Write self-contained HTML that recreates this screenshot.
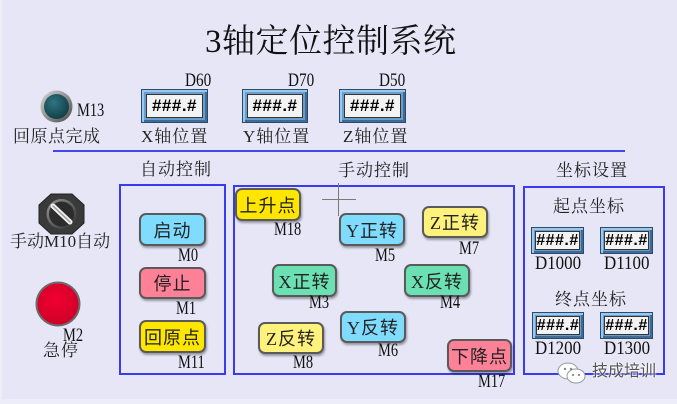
<!DOCTYPE html>
<html><head><meta charset="utf-8">
<style>
*{margin:0;padding:0;box-sizing:border-box}
html,body{width:677px;height:404px;overflow:hidden;background:#E6E6F7}
body{position:relative;font-family:"Liberation Serif","Noto Serif CJK SC",serif;color:#1a1a1a}
.a{position:absolute;white-space:nowrap;line-height:1}
.c{font-size:17px;letter-spacing:1px;color:#222}
.s{font-family:"Liberation Serif",serif;font-size:19px;transform:scaleX(0.76);transform-origin:left top;color:#111}
.d{font-family:"Liberation Serif",serif;font-size:19px;transform:scaleX(0.8);transform-origin:left top;color:#111}
.dd{font-family:"Liberation Serif",serif;font-size:19px;transform:scaleX(0.89);transform-origin:left top;color:#111}
.box{position:absolute;border:2px solid #3A3AF0}
.btn{position:absolute;border:2px solid #5a5a5a;border-radius:7px;box-shadow:1px 2px 2px rgba(0,0,0,0.35);display:flex;align-items:center;justify-content:center;font-size:18px;letter-spacing:1px;color:#222;font-family:"Liberation Serif","Noto Sans CJK SC",sans-serif}
.cy{background:#7FDCFF}
.pk{background:#FF8198}
.yl{background:#FFE600}
.ly{background:#FFF27C}
.gr{background:#6BE0B2}
.disp{position:absolute;background:#6A9ECF;border:1px solid #2B4B6B;box-shadow:inset 2px 2px 0 #9CC8EE,inset -2px -2px 0 #3E6C96}
.disp div{position:absolute;left:4px;top:4px;right:4px;bottom:4px;background:#F3F3F3;border:1px solid #333;display:flex;align-items:center;justify-content:center;font-family:"Liberation Sans",sans-serif;font-weight:bold;color:#000;letter-spacing:0.5px}
</style></head>
<body>
<div style="position:absolute;left:0;top:0;width:2px;height:404px;background:#EEEEF9"></div>
<div style="position:absolute;left:0;top:399px;width:677px;height:5px;background:#EDEDF9"></div>

<!-- title -->
<div class="a" style="left:205px;top:26px;font-size:33px;letter-spacing:0.5px;color:#111">3轴定位控制系统</div>

<!-- lamp M13 -->
<svg style="position:absolute;left:40px;top:90px" width="33" height="33">
<defs>
<radialGradient id="rg1" cx="40%" cy="35%" r="65%"><stop offset="0" stop-color="#2f7482"/><stop offset="1" stop-color="#12404a"/></radialGradient>
<linearGradient id="rr" x1="0" y1="0" x2="1" y2="1"><stop offset="0" stop-color="#d8d8d8"/><stop offset="1" stop-color="#4a4a4a"/></linearGradient>
</defs>
<circle cx="16.5" cy="16.5" r="16" fill="url(#rr)"/>
<circle cx="16.5" cy="16.5" r="12.5" fill="url(#rg1)"/>
</svg>
<div class="a s" style="left:77px;top:101px">M13</div>
<div class="a c" style="left:13px;top:128px;letter-spacing:0.5px">回原点完成</div>

<!-- displays -->
<div class="a d" style="left:185px;top:71px">D60</div>
<div class="disp" style="left:141px;top:89px;width:67px;height:34px"><div style="font-size:17px">###.#</div></div>
<div class="a c" style="left:141px;top:128px">X轴位置</div>

<div class="a d" style="left:288px;top:71px">D70</div>
<div class="disp" style="left:242px;top:89px;width:66px;height:34px"><div style="font-size:17px">###.#</div></div>
<div class="a c" style="left:243px;top:128px">Y轴位置</div>

<div class="a d" style="left:379px;top:71px">D50</div>
<div class="disp" style="left:339px;top:89px;width:67px;height:34px"><div style="font-size:17px">###.#</div></div>
<div class="a c" style="left:343px;top:128px">Z轴位置</div>

<div style="position:absolute;left:53px;top:150px;width:572px;height:2px;background:#4545F0"></div>

<!-- section titles -->
<div class="a c" style="left:140px;top:161px">自动控制</div>
<div class="a c" style="left:338px;top:162px">手动控制</div>
<div class="a c" style="left:556px;top:162px">坐标设置</div>

<!-- boxes -->
<div class="box" style="left:119px;top:184px;width:107px;height:191px"></div>
<div class="box" style="left:233px;top:185px;width:282px;height:190px"></div>
<div class="box" style="left:523px;top:186px;width:142px;height:189px"></div>

<!-- selector switch -->
<svg style="position:absolute;left:38px;top:193px" width="47" height="42">
<defs><linearGradient id="og" x1="0" y1="0" x2="1" y2="1"><stop offset="0" stop-color="#9a9a9a"/><stop offset="1" stop-color="#2a2a2a"/></linearGradient></defs>
<polygon points="13,1 34,1 46,12 46,30 34,41 13,41 1,30 1,12" fill="#3a3a3a" stroke="#222" stroke-width="1"/>
<circle cx="23.5" cy="21" r="15" fill="url(#og)"/>
<circle cx="23.5" cy="21" r="12.5" fill="#2c2c2c"/>
<line x1="15" y1="13" x2="32" y2="29" stroke="#f0f0f0" stroke-width="5" stroke-linecap="round"/>
<line x1="15" y1="13" x2="32" y2="29" stroke="#9a9a9a" stroke-width="1.5" stroke-linecap="round"/>
</svg>
<div class="a" style="left:10px;top:233px;font-size:17px;color:#222">手动<span style="font-family:'Liberation Serif',serif;font-size:17px">M10</span>自动</div>

<!-- emergency stop -->
<svg style="position:absolute;left:35px;top:280px" width="47" height="48">
<defs><radialGradient id="eg" cx="45%" cy="40%" r="60%"><stop offset="0" stop-color="#F00030"/><stop offset="1" stop-color="#D00028"/></radialGradient></defs>
<circle cx="23" cy="24" r="22.5" fill="#6a6a6a"/>
<circle cx="23" cy="24" r="20.5" fill="url(#eg)"/>
</svg>
<div class="a s" style="left:63px;top:326px">M2</div>
<div class="a c" style="left:43px;top:342px">急停</div>

<!-- auto buttons -->
<div class="btn cy" style="left:139px;top:213px;width:67px;height:33px">启动</div>
<div class="a s" style="left:178px;top:246px">M0</div>
<div class="btn pk" style="left:139px;top:267px;width:67px;height:32px">停止</div>
<div class="a s" style="left:176px;top:299px">M1</div>
<div class="btn yl" style="left:139px;top:320px;width:67px;height:33px">回原点</div>
<div class="a s" style="left:178px;top:353px">M11</div>

<!-- manual buttons -->
<div class="btn yl" style="left:235px;top:188px;width:66px;height:33px">上升点</div>
<div class="a s" style="left:274px;top:220px">M18</div>

<div style="position:absolute;left:338px;top:183px;width:1px;height:33px;background:#7a7a7a"></div>
<div style="position:absolute;left:322px;top:199px;width:34px;height:1px;background:#7a7a7a"></div>

<div class="btn cy" style="left:339px;top:213px;width:66px;height:33px">Y正转</div>
<div class="a s" style="left:375px;top:246px">M5</div>

<div class="btn ly" style="left:422px;top:206px;width:66px;height:32px">Z正转</div>
<div class="a s" style="left:459px;top:239px">M7</div>

<div class="btn gr" style="left:272px;top:264px;width:65px;height:33px">X正转</div>
<div class="a s" style="left:309px;top:293px">M3</div>

<div class="btn gr" style="left:404px;top:264px;width:66px;height:33px">X反转</div>
<div class="a s" style="left:440px;top:293px">M4</div>

<div class="btn cy" style="left:340px;top:311px;width:66px;height:32px">Y反转</div>
<div class="a s" style="left:378px;top:341px">M6</div>

<div class="btn ly" style="left:258px;top:322px;width:66px;height:32px">Z反转</div>
<div class="a s" style="left:293px;top:353px">M8</div>

<div class="btn pk" style="left:447px;top:339px;width:65px;height:33px">下降点</div>
<div class="a s" style="left:478px;top:372px">M17</div>

<!-- coordinate settings -->
<div class="a c" style="left:553px;top:198px">起点坐标</div>
<div class="disp" style="left:531px;top:227px;width:53px;height:27px"><div style="left:3px;top:3px;right:3px;bottom:3px;font-size:16px">###.#</div></div>
<div class="disp" style="left:600px;top:227px;width:53px;height:27px"><div style="left:3px;top:3px;right:3px;bottom:3px;font-size:16px">###.#</div></div>
<div class="a dd" style="left:535px;top:254px">D1000</div>
<div class="a dd" style="left:604px;top:254px">D1100</div>

<div class="a c" style="left:555px;top:291px">终点坐标</div>
<div class="disp" style="left:532px;top:312px;width:52px;height:27px"><div style="left:3px;top:3px;right:3px;bottom:3px;font-size:16px">###.#</div></div>
<div class="disp" style="left:600px;top:312px;width:53px;height:27px"><div style="left:3px;top:3px;right:3px;bottom:3px;font-size:16px">###.#</div></div>
<div class="a dd" style="left:535px;top:339px">D1200</div>
<div class="a dd" style="left:604px;top:339px">D1300</div>

<!-- watermark -->
<svg style="position:absolute;left:557px;top:361px" width="30" height="24">
<ellipse cx="11" cy="10" rx="10" ry="8" fill="#fff" stroke="#999" stroke-width="1"/>
<ellipse cx="19" cy="15" rx="9" ry="7" fill="#fff" stroke="#999" stroke-width="1"/>
<circle cx="8" cy="8" r="1.2" fill="#888"/><circle cx="14" cy="8" r="1.2" fill="#888"/>
<circle cx="16" cy="14" r="1.1" fill="#888"/><circle cx="22" cy="14" r="1.1" fill="#888"/>
</svg>
<div class="a" style="left:592px;top:364px;font-size:16px;color:#555;font-family:'Liberation Sans','Noto Sans CJK SC',sans-serif;text-shadow:0 0 2px #fff,0 0 2px #fff">技成培训</div>
</body></html>
